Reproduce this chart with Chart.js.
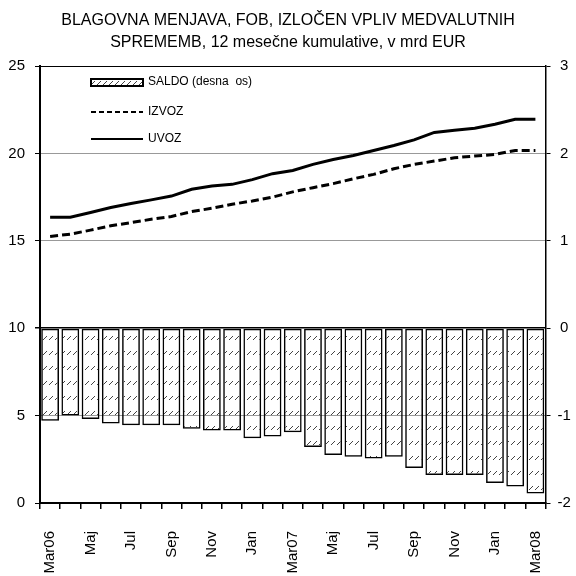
<!DOCTYPE html>
<html>
<head>
<meta charset="utf-8">
<script src="https://cdn.jsdelivr.net/npm/chart.js@4"></script>
<style>
  html, body { margin: 0; padding: 0; background: #fff; }
  #wrap { width: 576px; height: 576px; }
</style>
</head>
<body>
<div id="wrap"><canvas id="myChart" width="576" height="576"></canvas></div>
<script>
// months Mar06 .. Mar08
const months = ['Mar06','Apr06','Maj','Jun','Jul','Avg','Sep','Okt','Nov','Dec','Jan','Feb',
                'Mar07','Apr','Maj','Jun','Jul','Avg','Sep','Okt','Nov','Dec','Jan','Feb','Mar08'];
// only every second month gets a label
const tickLabels = ['Mar06','','Maj','','Jul','','Sep','','Nov','','Jan','',
                    'Mar07','','Maj','','Jul','','Sep','','Nov','','Jan','','Mar08'];

// mrd EUR
const saldo = [-1.06,-1.00,-1.04,-1.09,-1.11,-1.11,-1.11,-1.15,-1.17,-1.17,-1.26,-1.24,
               -1.19,-1.36,-1.45,-1.47,-1.49,-1.47,-1.60,-1.68,-1.68,-1.68,-1.77,-1.81,-1.89];
const izvoz = [15.25,15.38,15.61,15.86,16.04,16.23,16.39,16.67,16.86,17.09,17.28,17.50,
               17.80,18.04,18.27,18.55,18.80,19.12,19.37,19.56,19.75,19.85,19.94,20.17,20.17];
const uvoz  = [16.35,16.35,16.62,16.90,17.13,17.34,17.56,17.95,18.13,18.23,18.50,18.84,
               19.02,19.37,19.65,19.88,20.17,20.45,20.77,21.20,21.33,21.44,21.67,21.95,21.95];

const leftTicks = [0, 5, 10, 15, 20, 25];
const rightTicks = [-2, -1, 0, 1, 2, 3];

const sans = "'Liberation Sans', Arial, sans-serif";

// hatch fill like the excel one
function makeHatch() {
    const c = document.createElement('canvas');
    c.width = 6; c.height = 15;
    const g = c.getContext('2d');
    g.fillStyle = '#444';
    g.fillRect(1, 9, 1, 1);
    g.fillRect(2, 8, 1, 1);
    g.fillRect(3, 7, 1, 1);
    g.fillRect(4, 6, 1, 1);
    return g.createPattern(c, 'repeat');
}
const ctx = document.getElementById('myChart').getContext('2d');
const hatch = makeHatch();

// legend inside the plot, top left
const insideLegend = {
    id: 'insideLegend',
    afterDraw(chart) {
        const a = chart.chartArea;
        const g = chart.ctx;
        const x0 = a.left + 51, w = 52;
        const rows = [a.top + 16, a.top + 46, a.top + 73];
        g.save();
        // saldo
        g.fillStyle = hatch;
        g.fillRect(x0, rows[0] - 3, w, 7);
        g.lineWidth = 2;
        g.strokeStyle = '#000';
        g.strokeRect(x0, rows[0] - 3, w, 7);
        // izvoz
        g.lineWidth = 2;
        g.setLineDash([5, 3]);
        g.beginPath(); g.moveTo(x0, rows[1]); g.lineTo(x0 + w, rows[1]); g.stroke();
        g.setLineDash([]);
        g.beginPath(); g.moveTo(x0, rows[2]); g.lineTo(x0 + w, rows[2]); g.stroke();
        g.fillStyle = '#000';
        g.font = '12px ' + sans;
        g.textBaseline = 'middle';
        g.fillText('SALDO (desna  os)', x0 + w + 5, rows[0]);
        g.fillText('IZVOZ', x0 + w + 5, rows[1]);
        g.fillText('UVOZ', x0 + w + 5, rows[2]);
        g.restore();
    }
};

new Chart(ctx, {
    data: {
        labels: months,
        datasets: [
            {
                type: 'line',
                label: 'UVOZ',
                data: uvoz,
                yAxisID: 'y',
                borderColor: '#000',
                borderWidth: 3,
                pointRadius: 0,
                tension: 0,
                order: 1
            },
            {
                type: 'line',
                label: 'IZVOZ',
                data: izvoz,
                yAxisID: 'y',
                borderColor: '#000',
                borderWidth: 3,
                borderDash: [8, 4],
                pointRadius: 0,
                tension: 0,
                order: 2
            },
            {
                type: 'bar',
                label: 'SALDO (desna  os)',
                data: saldo,
                yAxisID: 'y1',
                backgroundColor: hatch,
                borderColor: '#000',
                borderWidth: 1.5,
                borderSkipped: false,
                barPercentage: 0.88,
                categoryPercentage: 1.0,
                order: 3
            }
        ]
    },
    options: {
        responsive: false,
        animation: false,
        layout: { padding: 0 },
        plugins: {
            legend: { display: false },
            tooltip: { enabled: false },
            title: {
                display: true,
                text: ['BLAGOVNA MENJAVA, FOB, IZLOČEN VPLIV MEDVALUTNIH',
                       'SPREMEMB, 12 mesečne kumulative, v mrd EUR'],
                color: '#000',
                font: { family: sans, size: 16, weight: 'normal', lineHeight: 1.375 },
                padding: { top: 10, bottom: 12 }
            }
        },
        scales: {
            x: {
                offset: true,
                grid: { offset: true, drawOnChartArea: false, tickLength: 6, tickColor: '#000', lineWidth: 1.5 },
                border: { display: true, color: '#000', width: 2 },
                ticks: {
                    autoSkip: false,
                    minRotation: 90,
                    maxRotation: 90,
                    padding: 22,
                    color: '#000',
                    font: { family: sans, size: 15 },
                    callback: (v, i) => tickLabels[i]
                },
                afterFit: s => { s.height = 73; }
            },
            y: {
                position: 'left',
                min: 0, max: 25,
                afterBuildTicks: s => { s.ticks = leftTicks.map(v => ({ value: v })); },
                grid: {
                    color: c => (c.tick.value === 10 || c.tick.value === 25) ? '#000' : (c.tick.value === 0 ? 'rgba(0,0,0,0)' : '#999'),
                    lineWidth: c => c.tick.value === 10 ? 1.5 : 1,
                    tickLength: 5,
                    tickColor: '#000'
                },
                border: { display: true, color: '#000', width: 2 },
                ticks: { padding: 10, color: '#000', font: { family: sans, size: 15 } },
                afterFit: s => { s.width = 40; }
            },
            y1: {
                position: 'right',
                min: -2, max: 3,
                afterBuildTicks: s => { s.ticks = rightTicks.map(v => ({ value: v })); },
                grid: { drawOnChartArea: false, tickLength: 5, tickColor: '#000' },
                border: { display: true, color: '#000', width: 1.5 },
                ticks: { padding: 7, crossAlign: 'center', color: '#000', font: { family: sans, size: 15 } },
                afterFit: s => { s.width = 30; }
            }
        }
    },
    plugins: [insideLegend]
});
</script>
</body>
</html>
